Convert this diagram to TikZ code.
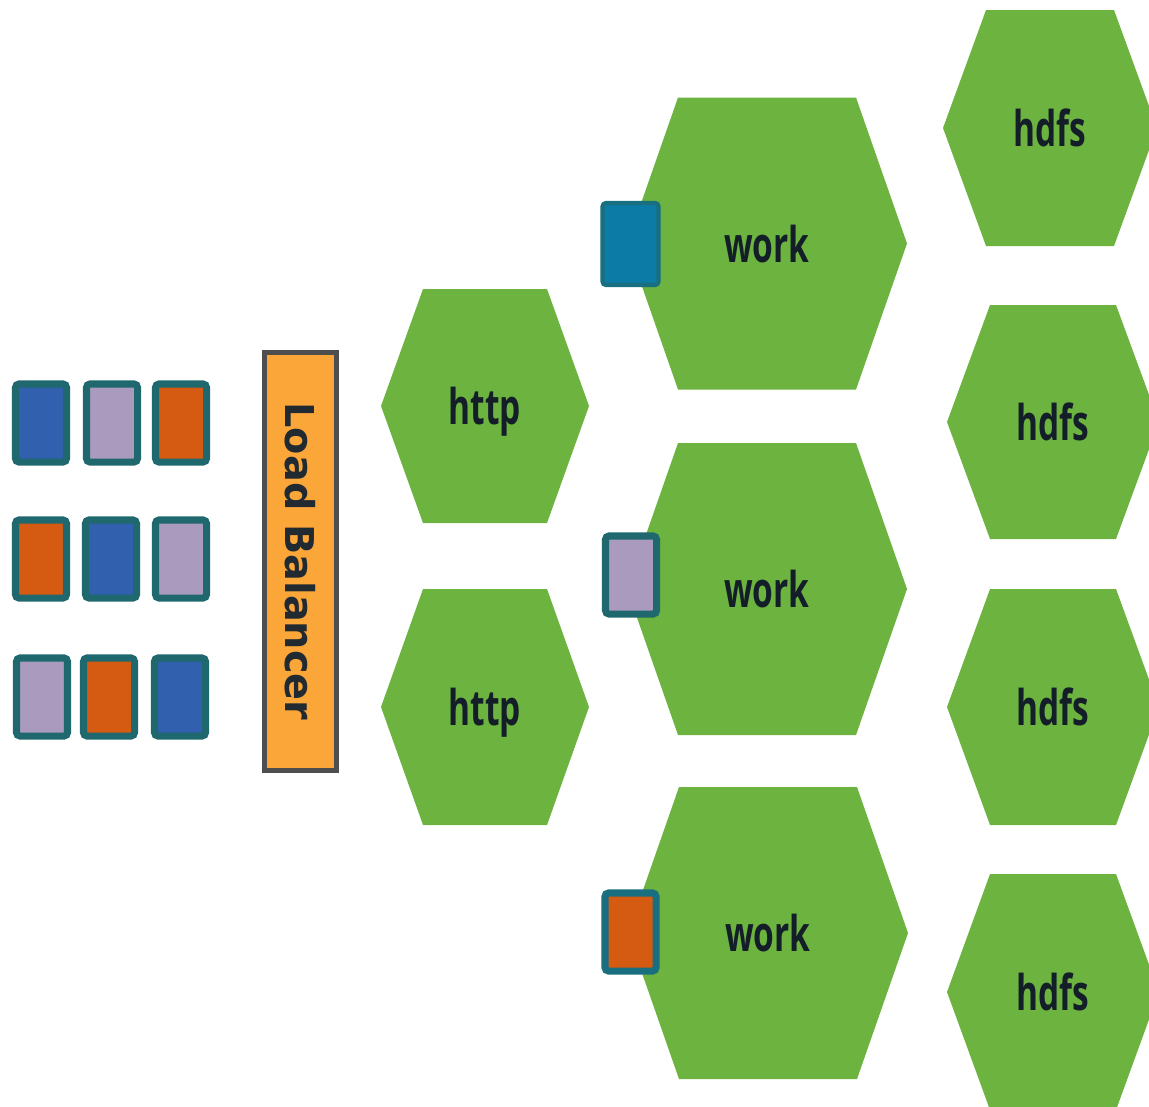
\documentclass[tikz,border=0pt]{standalone}
\usepackage{fontspec}
\usepackage{graphicx}
\newfontfamily\hexfont{Open Sans}
\newfontfamily\lbfont{DejaVu Sans}

\definecolor{hexgreen}{RGB}{108,179,63}
\definecolor{cardblue}{RGB}{48,96,174}
\definecolor{cardlilac}{RGB}{169,154,190}
\definecolor{cardorange}{RGB}{213,90,18}
\definecolor{cardedge}{RGB}{31,104,110}
\definecolor{cardteal}{RGB}{12,123,166}
\definecolor{lbfill}{RGB}{250,166,56}
\definecolor{lbedge}{RGB}{78,78,78}
\definecolor{labelink}{RGB}{20,30,40}

% labels in the hexagons are narrowed sideways
\newcommand{\squash}[1]{\scalebox{0.68}[1]{#1}}
% hexagon: name, cx, cy, half width at tips, half width of flat side, half height, label
\newcommand{\hexcell}[7]{%
  \fill[hexgreen] ({#2-#4},#3) -- ({#2-#5},{#3-#6}) -- ({#2+#5},{#3-#6})
    -- ({#2+#4},#3) -- ({#2+#5},{#3+#6}) -- ({#2-#5},{#3+#6}) -- cycle;
  \node[hexlabel] (#1) at (#2,#3) {\squash{#7}};}

\tikzset{
  hexlabel/.style={text=labelink,inner sep=0pt,text height=10.7pt,text depth=0pt,
    font=\hexfont\bfseries\fontsize{14pt}{17pt}\selectfont},
  card/.style={draw=cardedge,line width=2pt,rounded corners=1pt,inner sep=0pt,
    minimum width=0.51cm,minimum height=0.78cm},
}

\begin{document}
\begin{tikzpicture}[x=0.01cm,y=-0.01cm]
\useasboundingbox (0,0) rectangle (1149,1106);
\clip (0,0) rectangle (1149,1106);
% ---------- incoming requests ----------
\node[card,fill=cardblue]   (c11) at (41,423) {};
\node[card,fill=cardlilac]  (c12) at (112,423) {};
\node[card,fill=cardorange] (c13) at (181,423) {};
\node[card,fill=cardorange] (c21) at (41,559) {};
\node[card,fill=cardblue]   (c22) at (111,559) {};
\node[card,fill=cardlilac]  (c23) at (181,559) {};
\node[card,fill=cardlilac]  (c31) at (42,697) {};
\node[card,fill=cardorange] (c32) at (109,697) {};
\node[card,fill=cardblue]   (c33) at (180,697) {};
% ---------- load balancer ----------
\node[draw=lbedge,fill=lbfill,line width=1.4pt,rotate=-90,inner sep=0pt,
  minimum width=4.18cm,minimum height=0.72cm,text=labelink!75!lbedge,
  font=\lbfont\bfseries\fontsize{11.3pt}{13pt}\selectfont] (lb) at (300.5,561.5) {Load Balancer};
% ---------- http tier ----------
\hexcell{http1}{485}{406}{104}{62}{117}{http}
\hexcell{http2}{485}{707}{104}{62}{118}{http}
% ---------- work tier ----------
\hexcell{work1}{767}{243.5}{140}{89}{146}{work}
\hexcell{work2}{767}{589}{140}{89}{146}{work}
\hexcell{work3}{768}{933}{140}{89}{146}{work}
% job being handled by each worker
\node[card,fill=cardteal,draw=cardedge!70!cardteal,line width=1.2pt,
  minimum width=0.56cm,minimum height=0.82cm] (job1) at (630.5,244) {};
\node[card,fill=cardlilac]  (job2) at (631,575) {};
\node[card,fill=cardorange,draw=cardedge!70!cardteal] (job3) at (630.5,932) {};
% ---------- hdfs tier ----------
\hexcell{hdfs1}{1050}{128}{107}{64}{118}{hdfs}
\hexcell{hdfs2}{1053}{422}{106}{63}{117}{hdfs}
\hexcell{hdfs3}{1053}{707}{106}{63}{118}{hdfs}
\hexcell{hdfs4}{1053}{992}{106}{63}{118}{hdfs}
\end{tikzpicture}
\end{document}
